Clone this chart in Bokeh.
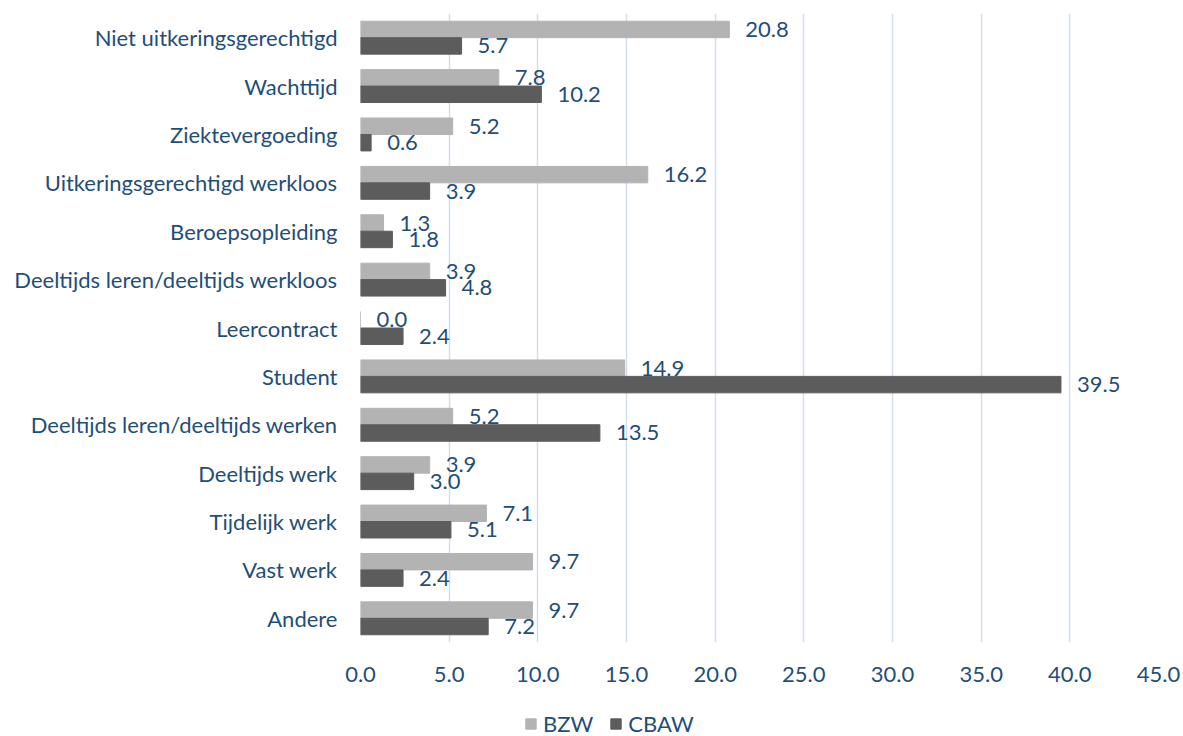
from bokeh.plotting import figure
from bokeh.layouts import column
from bokeh.models import (ColumnDataSource, FactorRange, FixedTicker, NumeralTickFormatter,
                          Legend, LegendItem, Range1d)
from bokeh.transform import dodge
from bokeh.core.properties import value
from bokeh.embed import file_html
from bokeh.resources import INLINE

categories = ["Niet uitkeringsgerechtigd", "Wachttijd", "Ziektevergoeding",
              "Uitkeringsgerechtigd werkloos", "Beroepsopleiding",
              "Deeltijds leren/deeltijds werkloos", "Leercontract", "Student",
              "Deeltijds leren/deeltijds werken", "Deeltijds werk", "Tijdelijk werk",
              "Vast werk", "Andere"]
bzw = [20.8, 7.8, 5.2, 16.2, 1.3, 3.9, 0.0, 14.9, 5.2, 3.9, 7.1, 9.7, 9.7]
cbaw = [5.7, 10.2, 0.6, 3.9, 1.8, 4.8, 2.4, 39.5, 13.5, 3.0, 5.1, 2.4, 7.2]
series = ["BZW", "CBAW"]
x_ticks = [0, 5, 10, 15, 20, 25, 30, 35, 40, 45]

FONT = "Lato"
TXT = "#1f4e79"
C_BZW = "#b3b3b3"
C_CBAW = "#5c5c5c"
FS = "22px"

src = ColumnDataSource(dict(
    cat=categories, bzw=bzw, cbaw=cbaw,
    bzw_l=["%.1f" % v for v in bzw], cbaw_l=["%.1f" % v for v in cbaw],
))

p = figure(width=1183, height=700, output_backend="svg", toolbar_location=None,
           y_range=FactorRange(factors=list(reversed(categories)), range_padding=0),
           x_range=Range1d(0, 45),
           min_border_left=360, min_border_right=25, min_border_top=13, min_border_bottom=58)
p.outline_line_color = None

p.hbar(y=dodge("cat", 0.17, range=p.y_range), right="bzw", left=0, height=0.34,
       source=src, color=C_BZW)
p.hbar(y=dodge("cat", -0.17, range=p.y_range), right="cbaw", left=0, height=0.34,
       source=src, color=C_CBAW)

p.text(x="bzw", y=dodge("cat", 0.17, range=p.y_range), text="bzw_l", source=src,
       x_offset=16, text_align="left", text_baseline="middle",
       text_font=value(FONT), text_font_size=FS, text_color=TXT)
p.text(x="cbaw", y=dodge("cat", -0.17, range=p.y_range), text="cbaw_l", source=src,
       x_offset=16, text_align="left", text_baseline="middle",
       text_font=value(FONT), text_font_size=FS, text_color=TXT)

p.xaxis.ticker = FixedTicker(ticks=x_ticks)
p.xaxis.formatter = NumeralTickFormatter(format="0.0")
for ax in (p.xaxis[0], p.yaxis[0]):
    ax.axis_line_color = None
    ax.major_tick_line_color = None
    ax.minor_tick_line_color = None
    ax.major_tick_out = 0
    ax.major_tick_in = 0
    ax.minor_tick_out = 0
    ax.major_label_text_font = FONT
    ax.major_label_text_font_size = FS
    ax.major_label_text_color = TXT
p.xaxis.major_label_standoff = 24
p.yaxis.major_label_standoff = 23

p.ygrid.grid_line_color = None
p.xgrid.ticker = FixedTicker(ticks=x_ticks)
p.xgrid.grid_line_color = "#d3deed"
p.xgrid.grid_line_width = 1.5

# legend strip below the chart (its swatch renderers are hidden; only the legend shows)
pl = figure(width=1183, height=36, output_backend="svg", toolbar_location=None,
            x_range=Range1d(-100, -50), y_range=FactorRange(factors=list(reversed(categories))),
            x_axis_location=None, y_axis_location=None,
            min_border_left=360, min_border_right=25, min_border_top=0, min_border_bottom=0)
pl.outline_line_color = None
pl.grid.grid_line_color = None
l1 = pl.hbar(y="cat", right="bzw", left=0, height=0.34, source=src, color=C_BZW, visible=False)
l2 = pl.hbar(y="cat", right="cbaw", left=0, height=0.34, source=src, color=C_CBAW, visible=False)

legend = Legend(items=[LegendItem(label=series[0], renderers=[l1]),
                       LegendItem(label=series[1], renderers=[l2])],
                orientation="horizontal", location=(164, -1),
                glyph_width=13, glyph_height=13, label_standoff=6, spacing=16,
                padding=0, margin=0, border_line_color=None, background_fill_alpha=0,
                label_text_font=FONT, label_text_font_size=FS, label_text_color=TXT)
pl.add_layout(legend, "center")

open("out.html", "w").write(file_html(column(p, pl, spacing=0), INLINE))
